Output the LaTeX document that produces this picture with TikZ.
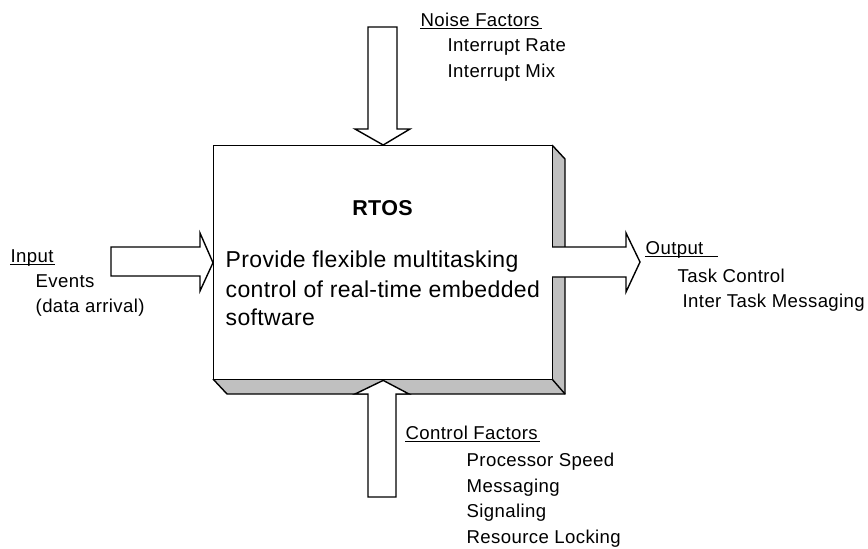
\documentclass[tikz,border=0pt]{standalone}
\usepackage{fontspec}
\setmainfont{Liberation Sans}
\newfontfamily\smallfont[LetterSpace=2]{Liberation Sans}
\newfontfamily\boxfont[LetterSpace=1.5]{Liberation Sans}
\definecolor{shadowgray}{RGB}{192,192,192}
\begin{document}
\begin{tikzpicture}[x=1pt,y=-1pt,line width=1.4pt,line join=miter,
  lbl/.style={anchor=base west,inner sep=0pt,font=\smallfont\fontsize{18.6}{22}\selectfont},
  boxtxt/.style={anchor=base west,inner sep=0pt,font=\boxfont\fontsize{23}{28}\selectfont},
  blockarrow/.style={draw=black,fill=white},
  uline/.style={line width=1pt}]
\useasboundingbox (0,0) rectangle (868,549);
% shadow of the box
\fill[shadowgray] (552,145) -- (565,159) -- (565,394) -- (227,394) -- (213,379) -- (552,379) -- cycle;
\draw (552,145) -- (565,159) -- (565,394) -- (227,394) -- (213,379);
\draw (552,379) -- (565,394);
% main box
\node[draw,fill=white,minimum width=339pt,minimum height=234pt,anchor=north west,inner sep=0pt] (rtos) at (213,145) {};
% block arrows
\draw[blockarrow] (368,27) -- (397,27) -- (397,129) -- (410,129) -- (rtos.north) -- (355,129) -- (368,129) -- cycle;
\draw[blockarrow] (368,497) -- (396,497) -- (396,394) -- (409,394) -- (rtos.south) -- (355,394) -- (368,394) -- cycle;
\draw[blockarrow] (111,247) -- (200,247) -- (200,233) -- (rtos.west) -- (200,291) -- (200,276) -- (111,276) -- cycle;
\draw[blockarrow] (552,247) -- (626,247) -- (626,233) -- (640,262) -- (626,292) -- (626,277) -- (552,277);
% box text
\node[anchor=base,inner sep=0pt,font=\boxfont\fontsize{21.5}{26}\selectfont\bfseries] (title) at (382.5,215) {RTOS};
\node[boxtxt] (b1) at (225,267) {Provide flexible multitasking};
\node[boxtxt] (b2) at (225,297) {control of real-time embedded};
\node[boxtxt] (b3) at (225,325) {software};
% noise factors
\node[lbl] (nf) at (420,26) {Noise Factors};
\draw[uline] ([yshift=-2.5pt]nf.base west) -- ([yshift=-2.5pt,xshift=2pt]nf.base east);
\node[lbl] (nf1) at (447,51) {Interrupt Rate};
\node[lbl] (nf2) at (447,77) {Interrupt Mix};
% input
\node[lbl] (in) at (10,262) {Input};
\draw[uline] ([yshift=-2.5pt]in.base west) -- ([yshift=-2.5pt,xshift=1pt]in.base east);
\node[lbl] (in1) at (35,287) {Events};
\node[lbl] (in2) at (35,312) {(data arrival)};
% output
\node[lbl] (out) at (645,254) {Output};
\draw[uline] ([yshift=-2.5pt]out.base west) -- ([yshift=-2.5pt,xshift=14pt]out.base east);
\node[lbl] (out1) at (677,282) {Task Control};
\node[lbl] (out2) at (682,307) {Inter Task Messaging};
% control factors
\node[lbl] (cf) at (405,439) {Control Factors};
\draw[uline] ([yshift=-2.5pt]cf.base west) -- ([yshift=-2.5pt,xshift=2pt]cf.base east);
\node[lbl] (cf1) at (466,466) {Processor Speed};
\node[lbl] (cf2) at (466,492) {Messaging};
\node[lbl] (cf3) at (466,517) {Signaling};
\node[lbl] (cf4) at (466,543) {Resource Locking};
\end{tikzpicture}
\end{document}
